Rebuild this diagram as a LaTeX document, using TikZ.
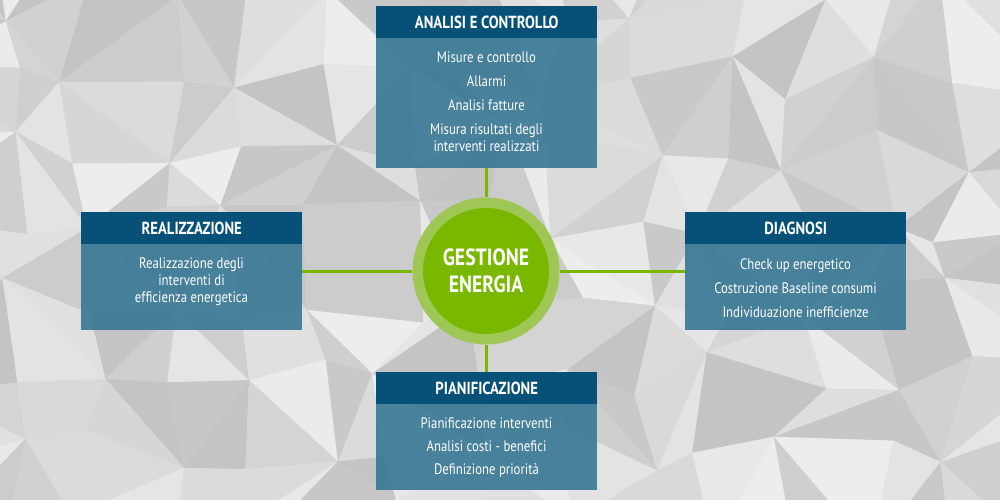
\documentclass[tikz,border=0pt]{standalone}
\usepackage{fontspec}
\setmainfont{PT Sans}[FakeStretch=0.84]
\begin{document}
\begin{tikzpicture}[x=1pt,y=-1pt]
\definecolor{hdrblue}{RGB}{7,80,120}
\definecolor{bodyblue}{RGB}{58,121,150}
\definecolor{mygreen}{RGB}{122,184,0}
\definecolor{ringgreen}{RGB}{158,199,86}
\tikzset{
  hdr/.style={fill=hdrblue, text=white, minimum width=221pt, minimum height=32pt, anchor=north west, inner sep=0pt, font=\bfseries\fontsize{17.5}{20}\selectfont},
  bodybox/.style={fill=bodyblue, fill opacity=0.92, minimum width=221pt, anchor=north west, inner sep=0pt},
  bodytext/.style={text=white, align=center, font=\fontsize{15.2}{17}\selectfont},
  conn/.style={draw=mygreen, line width=3pt}
}
\useasboundingbox (0,0) rectangle (1000,500);
% low-poly background
\begin{scope}
\clip (0,0) rectangle (1000,500);
\fill[white!85!black] (0,0) rectangle (1000,500);
\pgfmathsetseed{11}
\foreach \i in {0,...,14}{
  \foreach \j in {0,...,8}{
    \pgfmathsetmacro\dx{rand*28}
    \pgfmathsetmacro\dy{rand*26}
    \coordinate (p-\i-\j) at ({(\i-1)*80+\dx},{(\j-1)*75+\dy});
  }
}
\foreach \i in {0,...,13}{
  \foreach \j in {0,...,7}{
    \pgfmathtruncatemacro\ii{\i+1}
    \pgfmathtruncatemacro\jj{\j+1}
    \pgfmathtruncatemacro\ga{77+rnd*17}
    \pgfmathtruncatemacro\gb{77+rnd*17}
    \pgfmathtruncatemacro\mypar{mod(\i+\j,2)}
    \ifnum\mypar=0
      \fill[white!\ga!black] (p-\i-\j) -- (p-\ii-\j) -- (p-\ii-\jj) -- cycle;
      \fill[white!\gb!black] (p-\i-\j) -- (p-\i-\jj) -- (p-\ii-\jj) -- cycle;
    \else
      \fill[white!\ga!black] (p-\i-\j) -- (p-\ii-\j) -- (p-\i-\jj) -- cycle;
      \fill[white!\gb!black] (p-\ii-\j) -- (p-\ii-\jj) -- (p-\i-\jj) -- cycle;
    \fi
  }
}
\end{scope}
% center
\node[circle, fill=ringgreen, minimum size=147pt, inner sep=0pt] (ring) at (486,271) {};
% boxes
\node[hdr] (tophdr) at (376,6) {ANALISI E CONTROLLO};
\node[bodybox, minimum height=130pt] (topbody) at (376,38) {};
\node[bodytext] (toptext) at (486.5,102) {Misure e controllo\\[7pt]Allarmi\\[7pt]Analisi fatture\\[7pt]Misura risultati degli\\interventi realizzati};

\node[hdr] (lefthdr) at (81,212) {REALIZZAZIONE};
\node[bodybox, minimum height=86pt] (leftbody) at (81,244) {};
\node[bodytext] (lefttext) at (191.5,282) {Realizzazione degli\\interventi di\\efficienza energetica};

\node[hdr] (righthdr) at (685,212) {DIAGNOSI};
\node[bodybox, minimum height=86pt] (rightbody) at (685,244) {};
\node[bodytext] (righttext) at (795.5,288) {Check up energetico\\[7pt]Costruzione Baseline consumi\\[7pt]Individuazione inefficienze};

\node[hdr] (bothdr) at (376,372) {PIANIFICAZIONE};
\node[bodybox, minimum height=86pt] (botbody) at (376,404) {};
\node[bodytext] (bottext) at (486.5,447.5) {Pianificazione interventi\\[6pt]Analisi costi - benefici\\[6pt]Definizione priorità};
% connectors
\draw[conn] (topbody.south -| ring.north) -- (ring.north);
\draw[conn] (ring.south) -- (bothdr.north -| ring.south);
\draw[conn] (leftbody.east |- ring.west) -- (ring.west);
\draw[conn] (ring.east) -- (rightbody.west |- ring.east);
\node[circle, fill=mygreen, minimum size=126pt, inner sep=0pt, text=white, align=center, font=\bfseries\fontsize{23.5}{27}\selectfont] (circ) at (ring.center) {GESTIONE\\ENERGIA};
\end{tikzpicture}
\end{document}
